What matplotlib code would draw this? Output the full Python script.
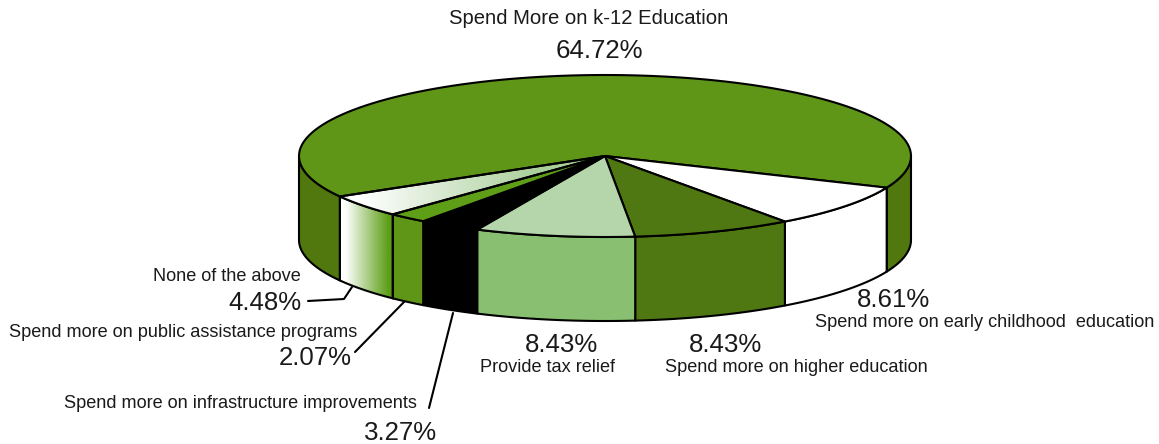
"""
Budget priorities survey: tilted pie with a raised rim, labels around the outside.
"""
import matplotlib
matplotlib.use("Agg")
import matplotlib.pyplot as plt
from matplotlib.patches import Polygon
from matplotlib.colors import LinearSegmentedColormap
import numpy as np

# ── data ─────────────────────────────────────────────────────────────────────
categories = [
    "Spend More on k-12 Education",
    "Spend more on early childhood  education",
    "Spend more on higher education",
    "Provide tax relief",
    "Spend more on infrastructure improvements",
    "Spend more on public assistance programs",
    "None of the above",
]
shares = [64.72, 8.61, 8.43, 8.43, 3.27, 2.07, 4.48]
share_labels = ["64.72%", "8.61%", "8.43%", "8.43%", "3.27%", "2.07%", "4.48%"]

# ── canvas (one data unit = one pixel, y pointing down) ──────────────────────
W, H = 1159, 444
fig = plt.figure(figsize=(W / 100, H / 100), dpi=100)
ax = fig.add_axes([0, 0, 1, 1])
ax.set_xlim(0, W)
ax.set_ylim(H, 0)
ax.axis("off")
plt.rcParams["font.family"] = ["Liberation Sans", "DejaVu Sans"]

# ── colours: (top face, rim) per slice ───────────────────────────────────────
C_BIG_TOP = "#5f9618"
C_BIG_RIM = "#50780f"
C_FADE_TOP = "#a9cf9a"
C_FADE_RIM = "#5c9e16"
top_colors = [C_BIG_TOP, "#ffffff", "#4f7712", "#b4d6aa", "#000000", "#5f9f18", None]
rim_colors = [C_BIG_RIM, "#ffffff", "#4f7712", "#88bf70", "#000000", "#5f9618", None]
C_TEXT = "#1a1a1a"

# ── geometry ─────────────────────────────────────────────────────────────────
CX, CY = 605, 156
RX, RY = 306, 81
DEPTH = 84
START = -23.0    # degrees, slices run clockwise from here
LW = 1.5


def arc(a0, a1, drop=0, n=120):
    a = np.radians(np.linspace(a0, a1, n))
    return np.column_stack([CX + RX * np.cos(a), CY - RY * np.sin(a) + drop])


def gradient_fill(poly, stops, extent, z):
    # horizontal ramp clipped to the polygon
    cmap = LinearSegmentedColormap.from_list("ramp", stops)
    grad = np.linspace(0, 1, 256).reshape(1, -1)
    im = ax.imshow(grad, cmap=cmap, extent=extent, aspect="auto", zorder=z, vmin=0, vmax=1)
    im.set_clip_path(poly)
    ax.set_xlim(0, W)
    ax.set_ylim(H, 0)


sweeps = np.array(shares) / sum(shares) * 360.0
edges = [START]
for s in sweeps[1:]:
    edges.append(edges[-1] - s)
# slice i runs from bounds[i][0] down to bounds[i][1]
bounds = [(edges[-1], edges[-1] - sweeps[0])]
for i in range(1, len(shares)):
    bounds.append((edges[i - 1], edges[i]))

# ── rim first, only the part facing the viewer ───────────────────────────────
for i, (a0, a1) in enumerate(bounds):
    lo, hi = a1, a0
    # front half is -180..0 in this convention
    segs = []
    for k in (0, -360):
        s0, s1 = max(lo - k, -180), min(hi - k, 0)
        if s1 > s0:
            segs.append((s1, s0))
    for s1, s0 in segs:
        top = arc(s1, s0)
        bottom = arc(s0, s1, DEPTH)
        pts = np.vstack([top, bottom])
        if rim_colors[i] is None:
            p = Polygon(pts, closed=True, facecolor="none", edgecolor="none", zorder=2)
            ax.add_patch(p)
            stops = [(0, "#ffffff"), (0.1, "#ffffff"), (0.92, C_FADE_RIM), (1, C_FADE_RIM)]
            gradient_fill(p, stops, [pts[:, 0].min(), pts[:, 0].max(), CY + RY + DEPTH, CY - RY], 2)
            ax.add_patch(Polygon(pts, closed=True, facecolor="none", edgecolor="black", lw=LW, zorder=3))
        else:
            ax.add_patch(Polygon(pts, closed=True, facecolor=rim_colors[i], edgecolor="black",
                                 lw=LW, joinstyle="round", zorder=3))

# ── top faces ────────────────────────────────────────────────────────────────
for i, (a0, a1) in enumerate(bounds):
    pts = np.vstack([[CX, CY], arc(a0, a1)])
    if top_colors[i] is None:
        p = Polygon(pts, closed=True, facecolor="none", edgecolor="none", zorder=4)
        ax.add_patch(p)
        stops = [(0, "#ffffff"), (0.08, "#ffffff"), (0.75, C_FADE_TOP), (1, C_FADE_TOP)]
        gradient_fill(p, stops, [pts[:, 0].min(), CX, CY + RY, CY - RY], 4)
        ax.add_patch(Polygon(pts, closed=True, facecolor="none", edgecolor="black", lw=LW, zorder=5))
    else:
        ax.add_patch(Polygon(pts, closed=True, facecolor=top_colors[i], edgecolor="black",
                             lw=LW, joinstyle="round", zorder=5))

# ── leader lines ─────────────────────────────────────────────────────────────
LEAD = dict(color="black", lw=1.5, zorder=6, solid_capstyle="round")
ax.plot([308, 344, 352], [301, 299, 287], **LEAD)
ax.plot([355, 404], [352, 302], **LEAD)
ax.plot([429, 453], [408, 313], **LEAD)

# ── labels ───────────────────────────────────────────────────────────────────
FS_NAME = 13.1
FS_TOP = 14.6
FS_PCT = 18.6


def name(x, y, s, fs=FS_NAME):
    ax.text(x, y, s, fontsize=fs, ha="center", va="center", color=C_TEXT, zorder=7)


def pct(x, y, s):
    ax.text(x, y, s, fontsize=FS_PCT, ha="center", va="center", color=C_TEXT, zorder=7)


name(589, 18, categories[0], FS_TOP)
pct(599, 51, share_labels[0])

pct(893, 300, share_labels[1])
name(985, 322, categories[1])

pct(725, 345, share_labels[2])
name(796, 367, categories[2])

pct(561, 345, share_labels[3])
name(548, 367, categories[3])

name(240, 403, categories[4])
pct(401, 433, share_labels[4])

name(183, 332, categories[5])
pct(315, 358, share_labels[5])

name(227, 276, categories[6])
pct(265, 303, share_labels[6])

plt.savefig("out.png", dpi=100, facecolor="white")
